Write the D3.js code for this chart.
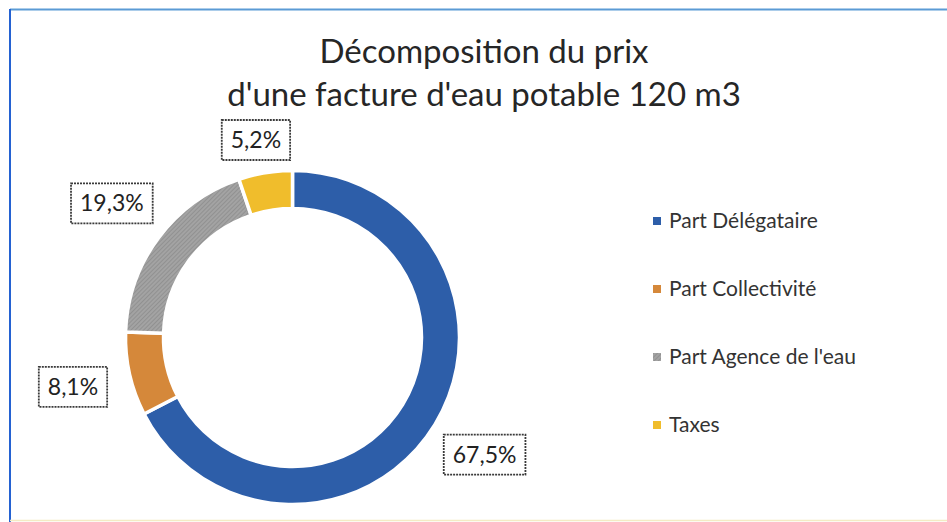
<!DOCTYPE html>
<html>
<head>
<meta charset="utf-8">
<script src="https://cdn.jsdelivr.net/npm/d3@7"></script>
<style>
  body { margin: 0; background: #fff; }
  svg { display: block; }
</style>
</head>
<body>
<svg id="chart" width="947" height="522"></svg>
<script>
let categories = ['Part Délégataire', 'Part Collectivité', "Part Agence de l'eau", 'Taxes'];
let values = [67.5, 8.1, 19.3, 5.2];
let value_labels = ['67,5%', '8,1%', '19,3%', '5,2%'];
let title_lines = ['Décomposition du prix', "d'une facture d'eau potable 120 m3"];
let slice_colors = ['#2d5ea9', '#d5883a', '#a0a0a0', '#f0bd2c'];

let width = 947, height = 522;
let cx = 292.5, cy = 337.5;
let outer_r = 167, inner_r = 129, label_r = 225;
let font = 'Lato, "Open Sans", sans-serif';

let svg = d3.select('#chart');

// hatched fill for the grey slice
let defs = svg.append('defs');
let hatch = defs.append('pattern')
  .attr('id', 'hatch')
  .attr('patternUnits', 'userSpaceOnUse')
  .attr('width', 3)
  .attr('height', 3)
  .attr('patternTransform', 'rotate(45)');
hatch.append('rect').attr('width', 3).attr('height', 3).attr('fill', '#a3a3a3');
hatch.append('line')
  .attr('x1', 0).attr('y1', 0).attr('x2', 0).attr('y2', 3)
  .attr('stroke', '#858585').attr('stroke-width', 1.2);

let fills = slice_colors.map((c, i) => i == 2 ? 'url(#hatch)' : c);

// frame
svg.append('line').attr('x1', 10).attr('x2', width).attr('y1', 9.5).attr('y2', 9.5)
  .attr('stroke', '#5b9bd5').attr('stroke-width', 2);
svg.append('line').attr('x1', 10).attr('x2', 10).attr('y1', 9).attr('y2', height)
  .attr('stroke', '#2462d2').attr('stroke-width', 2);
svg.append('line').attr('x1', 10).attr('x2', width).attr('y1', 520.5).attr('y2', 520.5)
  .attr('stroke', '#f4ebc4').attr('stroke-width', 1.5);

// title
svg.append('g').selectAll('text')
  .data(title_lines)
  .enter().append('text')
  .attr('x', 484)
  .attr('y', (d, i) => 63 + i * 43)
  .attr('text-anchor', 'middle')
  .style('font-family', font)
  .style('font-size', '33px')
  .style('fill', '#262626')
  .text(d => d);

// donut
let pie = d3.pie().sort(null).value(d => d);
let arcs = pie(values);
let arc = d3.arc().innerRadius(inner_r).outerRadius(outer_r);

let donut = svg.append('g').attr('transform', `translate(${cx},${cy})`);
donut.selectAll('path')
  .data(arcs)
  .enter().append('path')
  .attr('d', arc)
  .attr('fill', (d, i) => fills[i])
  .attr('stroke', '#fff')
  .attr('stroke-width', 3.5);

// data labels
let label_arc = d3.arc().innerRadius(label_r).outerRadius(label_r);
let labels = svg.append('g').selectAll('g')
  .data(arcs)
  .enter().append('g')
  .attr('transform', d => {
    let [x, y] = label_arc.centroid(d);
    return `translate(${cx + x},${Math.max(cy + y, 140)})`;
  });

labels.append('text')
  .attr('text-anchor', 'middle')
  .attr('dy', '0.35em')
  .style('font-family', font)
  .style('font-size', '23px')
  .style('fill', '#222')
  .text((d, i) => value_labels[i]);

labels.each(function() {
  let g = d3.select(this);
  let bb = g.select('text').node().getBBox();
  g.insert('rect', 'text')
    .attr('x', bb.x - 9)
    .attr('y', -20)
    .attr('width', bb.width + 18)
    .attr('height', 40)
    .attr('fill', '#fff')
    .attr('stroke', '#3a3a3a')
    .attr('stroke-width', 1.8)
    .attr('stroke-dasharray', '2,1');
});

// legend
let legend_y = d3.scalePoint()
  .domain(categories)
  .range([221, 425]);

let legend = svg.append('g').selectAll('g')
  .data(categories)
  .enter().append('g')
  .attr('transform', d => `translate(653,${legend_y(d)})`);

legend.append('rect')
  .attr('x', 0).attr('y', -4)
  .attr('width', 8).attr('height', 8)
  .attr('fill', (d, i) => fills[i]);

legend.append('text')
  .attr('x', 16)
  .attr('dy', '0.35em')
  .style('font-family', font)
  .style('font-size', '21px')
  .style('fill', '#333')
  .text(d => d);
</script>
</body>
</html>
